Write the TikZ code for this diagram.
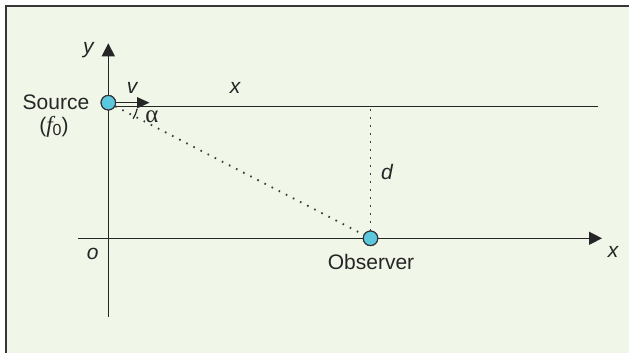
\documentclass[tikz,border=0pt]{standalone}
\usepackage{fontspec}
\setmainfont{Liberation Sans}
\newfontfamily\serifgr{Liberation Serif}
\usetikzlibrary{arrows.meta}
\definecolor{bgc}{RGB}{240,246,232}
\definecolor{ballc}{RGB}{92,200,222}
\definecolor{framec}{RGB}{55,55,55}
\definecolor{dotc}{RGB}{60,60,60}
\begin{document}
\begin{tikzpicture}[x=1pt,y=-1pt,
  lbl/.style={font=\fontsize{21}{25}\selectfont, inner sep=0pt, text=black!85},
  ilbl/.style={lbl, font=\fontsize{21}{25}\selectfont\itshape},
  axisline/.style={line width=1.5pt, draw=black!85, -{Triangle[length=13pt,width=13pt]}},
  plainline/.style={line width=1.5pt, draw=black!85},
  ball/.style={circle, draw=black!80, line width=1.1pt, fill=ballc, minimum size=14.5pt, inner sep=0pt},
  dotline/.style={line width=1.8pt, dash pattern=on 1.6pt off 6.4pt, draw=dotc}]
  \useasboundingbox (0,0) rectangle (629,353);
  \fill[white] (0,0) rectangle (629,353);
  \fill[bgc] (6,6) rectangle (629,353);
  \draw[line width=1.6pt, framec] (6,353) -- (6,6) -- (629,6);

  % axes
  \coordinate (ybot) at (108.3,317);
  \coordinate (ytop) at (108.3,43.3);
  \coordinate (xl) at (78,238.3);
  \coordinate (xr) at (602,238.3);
  \draw[axisline] (ybot) -- (ytop);
  \draw[axisline] (xl) -- (xr);

  % source path line
  \coordinate (topL) at (115,106.5);
  \coordinate (topR) at (598,106.5);
  \draw[plainline] (topL) -- (topR);

  % dotted lines
  \node[ball] (src) at (108.3,102.7) {};
  \node[ball] (obs) at (370.5,238.3) {};
  \coordinate (dtop) at (370.5,109);
  \draw[dotline] (src) -- (obs);
  \draw[dotline] (dtop) -- (obs.north);
  \node[ball] at (src) {};
  \node[ball] at (obs) {};

  % velocity arrow
  \coordinate (vtip) at (149.5,102.7);
  \draw[line width=1.5pt, draw=black!85, -{Triangle[length=12.5pt,width=11pt]}] (src.east) -- (vtip);

  % angle arc
  \draw[line width=1.2pt, black!85] (src) ++(12:29.5) arc[start angle=12, end angle=33, radius=29.5];

  % labels
  \node[ilbl] (ylab) at (88.3,50) {y};
  \node[ilbl] (vlab) at (132,88) {v};
  \node[ilbl] (xtop) at (235,88) {x};
  \node[lbl, font=\fontsize{25}{29}\selectfont\serifgr] (alab) at (152,117) {α};
  \node[ilbl] (dlab) at (387,172) {d};
  \node[ilbl] (olab) at (92.7,254) {o};
  \node[ilbl] (xlab) at (613,252) {x};
  \node[lbl] (srclab) at (56,102.7) {Source};
  \node[lbl] (f0lab) at (54,126.7) {({\fontsize{23}{27}\selectfont\serifgr\itshape f}\raisebox{-3pt}{\fontsize{16}{18}\selectfont 0})};
  \node[lbl] (obslab) at (371,261.7) {Observer};
\end{tikzpicture}
\end{document}
